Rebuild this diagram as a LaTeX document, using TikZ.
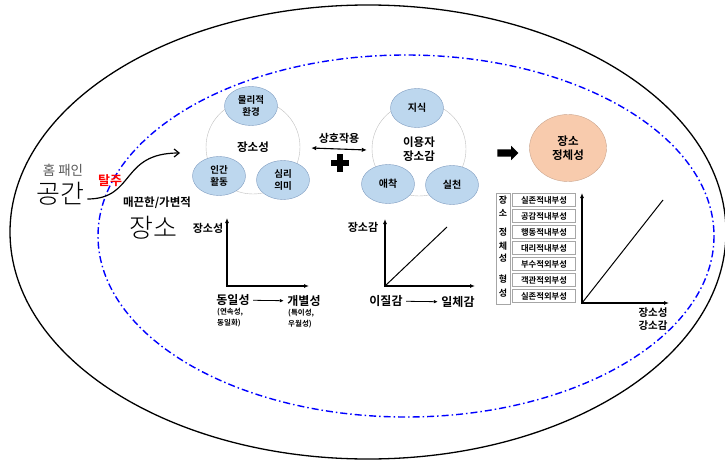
\documentclass[tikz,border=0pt]{standalone}
\usepackage{fontspec}
\setmainfont{Noto Sans CJK KR}[BoldFont={Noto Sans CJK KR Bold}]
\newfontfamily\krlight{Noto Sans CJK KR Light}
\usepackage{xcolor}
\usepackage{tikz}
\usetikzlibrary{positioning}
\usetikzlibrary{arrows.meta}
\usetikzlibrary{shapes.geometric, shapes.arrows}

\definecolor{lightblue}{HTML}{BDD7EE}
\definecolor{edgeblue}{HTML}{7F9CC0}
\definecolor{peach}{HTML}{F8CBAD}
\definecolor{peachedge}{HTML}{C9A58E}

\begin{document}
\begin{tikzpicture}[x=1pt, y=-1pt,
    smallcirc/.style={ellipse, draw=edgeblue, fill=lightblue, minimum width=53pt, minimum height=39pt, inner sep=0pt, align=center, font=\bfseries\fontsize{9.5}{12.5}\selectfont},
    bigcirc/.style={circle, draw=black!25, fill=white, minimum size=94pt, align=center, font=\bfseries\fontsize{11.5}{14.5}\selectfont},
    rowbox/.style={draw=black!35, line width=0.9pt, fill=white, minimum width=63pt, minimum height=13.5pt, inner sep=0pt, font=\bfseries\fontsize{8.3}{9}\selectfont},
    lbl/.style={font=\bfseries\fontsize{11}{13}\selectfont, align=center},
    sublbl/.style={font=\bfseries\fontsize{7.5}{11}\selectfont, align=left, inner sep=0pt},
    axis/.style={line width=1.1pt, {Latex[length=5pt,width=4pt]}-{Latex[length=5pt,width=4pt]}},
    smallarrow/.style={line width=0.8pt, -{Latex[length=4pt,width=3.5pt]}},
  ]
			\useasboundingbox (0,0) rectangle (725,460);

			% Outer and inner ellipses
			\draw[line width=1.3pt] (368,232) ellipse [x radius=358, y radius=227];
			\draw[blue, line width=1.4pt, dash pattern=on 7pt off 3pt on 1.5pt off 3pt] (406,236) ellipse [x radius=308, y radius=181];

			% Space -> place
			\node[text=black!65, font=\fontsize{13.5}{15}\selectfont] (homepane) at (63,170) {홈 패인};
			\node[font=\krlight\fontsize{26}{28}\selectfont] (space) at (60,194) {공간};
			\node[text=red, font=\bfseries\fontsize{13}{15}\selectfont] (escape) at (110,181) {탈주};
			\node[font=\bfseries\fontsize{11.5}{13}\selectfont] (smooth) at (157,203) {매끈한/가변적};
			\node[font=\krlight\fontsize{26}{28}\selectfont] (place) at (153,228) {장소};
			\coordinate (escapeend) at (180,153);
			\draw[line width=1.2pt, -{Straight Barb[length=5pt,width=8pt]}] ([yshift=-5pt]space.east) .. controls +(48,0) and +(-60,0) .. (escapeend);

			% Placeness circles
			\node[bigcirc] (placeness) at (253,147) {장소성};
			\node[smallcirc] (physical) at (251,106) {물리적\\환경};
			\node[smallcirc] (activity) at (219,176) {인간\\활동};
			\node[smallcirc] (meaning) at (283,180) {심리\\의미};

			% User sense of place circles
			\node[bigcirc] (usersense) at (419,149) {이용자\\장소감};
			\node[smallcirc, font=\bfseries\fontsize{10}{12}\selectfont] (knowledge) at (417,108) {지식};
			\node[smallcirc, font=\bfseries\fontsize{10}{12}\selectfont] (attach) at (388,184) {애착};
			\node[smallcirc, font=\bfseries\fontsize{10}{12}\selectfont] (practice) at (452,185) {실천};

			% Interaction and plus
			\draw[line width=1.1pt, {Latex[length=5pt,width=4.5pt]}-{Latex[length=5pt,width=4.5pt]}] ([xshift=11pt,yshift=-1pt]placeness.east) -- node[above=2pt, lbl] (interact) {상호작용} ([xshift=-5pt,yshift=-1pt]usersense.west);
			\coordinate (plus) at (340,163);
			\draw[line width=5.5pt] ([xshift=-9pt]plus) -- ([xshift=9pt]plus) ([yshift=-9pt]plus) -- ([yshift=9pt]plus);

			% Arrow to place identity
			\node[single arrow, fill=black, inner sep=3.5pt, single arrow head extend=3.5pt, minimum height=21pt] (fatarrow) at (506,153) {};
			\node[ellipse, draw=peachedge, fill=peach, minimum width=77pt, minimum height=67pt, align=center, font=\bfseries\fontsize{11.5}{13.5}\selectfont] (identity) at (568,148) {장소\\정체성};

			% Identity formation table
			\node[draw=black!35, line width=0.9pt, fill=white, minimum width=14pt, minimum height=111pt, inner sep=0pt] (colhead) at (503,248.5) {};
			\foreach \y/\t [count=\i] in {200/장, 213/소, 232/정, 246/체, 258/성, 279/형, 293/성}
				\node[font=\bfseries\fontsize{9}{10}\selectfont, inner sep=0pt] (letter\i) at (503,\y) {\t};
			\foreach \t [count=\i] in {실존적내부성, 공감적내부성, 행동적내부성, 대리적내부성, 부수적외부성, 객관적외부성, 실존적외부성}
				\node[rowbox] (row\i) at (544,{184+16*\i}) {\t};

			% Graph 1: placeness
			\coordinate (o1) at (227,286);
			\coordinate (y1) at (227,218);
			\coordinate (x1) at (309,286);
			\draw[axis] (y1) |- (x1);
			\node[lbl] (axisplace) at (208,228) {장소성};
			\node[font=\bfseries\fontsize{12}{14}\selectfont] (sameness) at (233,300) {동일성};
			\node[font=\bfseries\fontsize{12}{14}\selectfont] (distinct) at (304,301) {개별성};
			\draw[smallarrow] (sameness) -- (distinct);
			\node[sublbl, anchor=north west] (samesub) at (217,308) {(연속성,\\동일화)};
			\node[sublbl, anchor=north west] (distsub) at (288,309) {(특이성,\\우월성)};

			% Graph 2: sense of place
			\coordinate (o2) at (385,286);
			\coordinate (y2) at (385,219);
			\coordinate (x2) at (475,286);
			\coordinate (d2) at (447,227);
			\draw[axis] (y2) |- (x2);
			\draw[line width=1pt] (o2) -- (d2);
			\node[lbl] (axissense) at (363,227) {장소감};
			\node[font=\bfseries\fontsize{12}{14}\selectfont] (alien) at (386,301) {이질감};
			\node[font=\bfseries\fontsize{12}{14}\selectfont] (unity) at (458,302) {일체감};
			\draw[smallarrow] (alien) -- (unity);

			% Graph 3: place identity
			\coordinate (o3) at (582,303);
			\coordinate (y3) at (582,193);
			\coordinate (x3) at (669,303);
			\coordinate (d3) at (663,200);
			\draw[axis] (y3) |- (x3);
			\draw[line width=1pt] (o3) -- (d3);
			\node[lbl, font=\bfseries\fontsize{10.5}{12.5}\selectfont] (axisid) at (653,319) {장소성\\강소감};

		\end{tikzpicture}
\end{document}
